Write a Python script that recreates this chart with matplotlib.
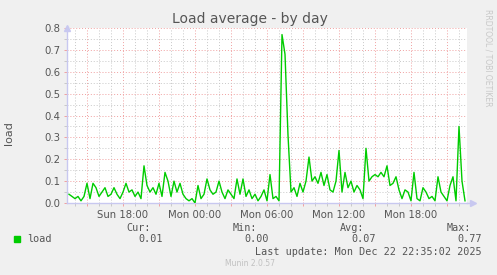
import pandas as pd
import matplotlib
matplotlib.use('Agg')
import matplotlib.pyplot as plt
import matplotlib.dates as mdates
from matplotlib.patches import Rectangle

# ── Data (one sample every 15 min) ────────────────────────────────
start = '2025-12-21 13:30'
load = [
    0.04, 0.03, 0.02, 0.03, 0.01, 0.03, 0.09, 0.02, 0.09, 0.07,
    0.03, 0.05, 0.07, 0.03, 0.04, 0.07, 0.04, 0.02, 0.05, 0.09,
    0.05, 0.06, 0.03, 0.05, 0.02, 0.17, 0.08, 0.05, 0.07, 0.04,
    0.09, 0.03, 0.14, 0.10, 0.03, 0.10, 0.05, 0.09, 0.04, 0.02,
    0.01, 0.02, 0.00, 0.08, 0.02, 0.04, 0.11, 0.06, 0.04, 0.05,
    0.10, 0.05, 0.02, 0.06, 0.04, 0.02, 0.11, 0.04, 0.11, 0.03,
    0.06, 0.02, 0.04, 0.01, 0.03, 0.06, 0.01, 0.13, 0.02, 0.03,
    0.01, 0.77, 0.68, 0.31, 0.05, 0.07, 0.03, 0.09, 0.05, 0.10,
    0.21, 0.10, 0.12, 0.09, 0.14, 0.08, 0.13, 0.06, 0.05, 0.10,
    0.24, 0.05, 0.14, 0.07, 0.10, 0.05, 0.08, 0.06, 0.02, 0.25,
    0.10, 0.12, 0.13, 0.12, 0.14, 0.12, 0.17, 0.08, 0.09, 0.12,
    0.06, 0.02, 0.06, 0.05, 0.01, 0.14, 0.02, 0.01, 0.07, 0.05,
    0.02, 0.03, 0.01, 0.12, 0.05, 0.03, 0.01, 0.08, 0.12, 0.01,
    0.35, 0.10, 0.01,
]
times = pd.date_range(start, periods=len(load), freq='15min')

stat_names  = ['Cur:', 'Min:', 'Avg:', 'Max:']
stat_values = ['0.01', '0.00', '0.07', '0.77']
last_update = 'Last update: Mon Dec 22 22:35:02 2025'

# ── Figure ────────────────────────────────────────────────────────
W, H = 497, 275
BG   = '#f0f0f0'
TXT  = '#555555'
GREEN = '#00cc00'

fig = plt.figure(figsize=(W / 100, H / 100), dpi=100, facecolor=BG)
ax  = fig.add_axes([67 / W, 1 - 203 / H, 400 / W, 175 / H], facecolor='white')

def px(x, y):
    return x / W, 1 - y / H

ax.plot(times, load, color=GREEN, lw=1.0, zorder=3)

ax.set_xlim(pd.Timestamp('2025-12-21 13:20'), pd.Timestamp('2025-12-22 22:40'))
ax.set_ylim(0, 0.8)

# grid: red major, grey minor, both dotted
ax.xaxis.set_major_locator(mdates.HourLocator(byhour=range(0, 24, 3)))
ax.xaxis.set_minor_locator(mdates.HourLocator())
ax.xaxis.set_major_formatter(
    plt.FuncFormatter(lambda v, p: mdates.num2date(v).strftime('%a %H:%M')
                      if mdates.num2date(v).hour % 6 == 0 else ''))
ax.set_yticks([i / 10 for i in range(9)])
ax.set_yticks([i / 20 for i in range(17)], minor=True)
ax.yaxis.set_major_formatter(plt.FormatStrFormatter('%.1f'))

ax.grid(which='major', color='#f0a0a0', ls=(0, (1, 2)), lw=0.7)
ax.grid(which='minor', color='#c8c8c8', ls=(0, (1, 2)), lw=0.7)
ax.set_axisbelow(True)

ax.tick_params(which='both', length=2, width=0.7, color='#f0a0a0',
               labelsize=7.3, labelcolor=TXT, pad=3)
ax.tick_params(which='minor', color='#c8c8c8')

for s in ['top', 'right']:
    ax.spines[s].set_visible(False)
for s in ['left', 'bottom']:
    ax.spines[s].set_color('#c8c8f0')
    ax.spines[s].set_linewidth(1.0)

# axis arrows
ax.plot([0], [1.0], marker='^', ms=5, color='#c8c8f0', transform=ax.transAxes, clip_on=False)
ax.plot([1.0, 1.015], [0, 0], color='#c8c8f0', lw=1, transform=ax.transAxes, clip_on=False)
ax.plot([1.015], [0], marker='>', ms=5, color='#c8c8f0', transform=ax.transAxes, clip_on=False)

# ── Texts ─────────────────────────────────────────────────────────
fig.text(*px(250, 19), 'Load average - by day', ha='center', va='center',
         fontsize=10, color=TXT)
fig.text(*px(9, 133), 'load', ha='center', va='center', rotation=90,
         fontsize=8, color=TXT)
fig.text(*px(488, 58), 'RRDTOOL / TOBI OETIKER', ha='center', va='center',
         rotation=270, fontsize=5.5, color='#c8c8c8')

mono = dict(family='DejaVu Sans Mono', fontsize=7.3, color=TXT, va='center')
fig.patches.append(Rectangle(px(14, 242), 6 / W, 6 / H, color=GREEN,
                             transform=fig.transFigure))
fig.text(*px(27, 239), 'load', ha='left', **mono)
name_right  = [151, 257, 364, 471]
value_right = [163, 269, 376, 482]
for n, v, xn, xv in zip(stat_names, stat_values, name_right, value_right):
    fig.text(*px(xn, 228), n, ha='right', **mono)
    fig.text(*px(xv, 239), v, ha='right', **mono)
fig.text(*px(482, 252), last_update, ha='right', **mono)
fig.text(*px(250, 264), 'Munin 2.0.57', ha='center', va='center',
         fontsize=5.5, color='#c0c0c0')

fig.savefig('out.png', dpi=100, facecolor=BG)
